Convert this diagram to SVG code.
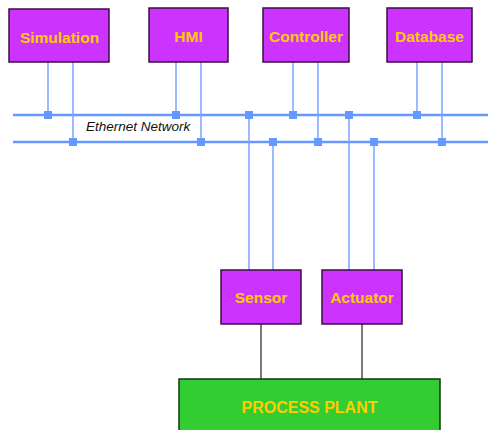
<svg xmlns="http://www.w3.org/2000/svg" width="488" height="430" viewBox="0 0 488 430">
  <style>
    .box { fill: #cc33ff; stroke: #3a1040; stroke-width: 1.5; }
    .plant { fill: #33cc33; stroke: #0d3d0d; stroke-width: 1.5; }
    .label { font-family: "Liberation Sans", Arial, sans-serif; font-weight: bold; font-size: 15.5px; fill: #ffcc00; text-anchor: middle; }
    .big { font-size: 16px; }
    .bus { stroke: #6699ff; stroke-width: 2.5; fill: none; }
    .drop { stroke: #7aa5ff; stroke-width: 1.5; fill: none; }
    .wire { stroke: #222; stroke-width: 1.2; fill: none; }
    .tap { fill: #6699ff; }
    .net { font-family: "Liberation Sans", Arial, sans-serif; font-style: italic; font-size: 13.5px; fill: #111; }
  </style>
  <defs>
    <rect id="tapSq" x="-4" y="-4" width="8" height="8" class="tap"/>
  </defs>
  <rect width="488" height="430" fill="#fff"/>

  <g id="connectors">
    <!-- Ethernet bus (two rails) -->
    <line class="bus" x1="13" y1="115" x2="488" y2="115"/>
    <line class="bus" x1="13" y1="142" x2="488" y2="142"/>
    <!-- drops from the top row of nodes -->
    <line class="drop" x1="48" y1="62" x2="48" y2="115"/>
    <line class="drop" x1="73" y1="62" x2="73" y2="142"/>
    <line class="drop" x1="176" y1="62" x2="176" y2="115"/>
    <line class="drop" x1="201" y1="62" x2="201" y2="142"/>
    <line class="drop" x1="293" y1="62" x2="293" y2="115"/>
    <line class="drop" x1="318" y1="62" x2="318" y2="142"/>
    <line class="drop" x1="417" y1="62" x2="417" y2="115"/>
    <line class="drop" x1="442" y1="62" x2="442" y2="142"/>
    <!-- drops down to field devices -->
    <line class="drop" x1="249" y1="115" x2="249" y2="270"/>
    <line class="drop" x1="273" y1="142" x2="273" y2="270"/>
    <line class="drop" x1="349" y1="115" x2="349" y2="270"/>
    <line class="drop" x1="374" y1="142" x2="374" y2="270"/>
    <!-- taps -->
    <use href="#tapSq" x="48" y="115"/>
    <use href="#tapSq" x="73" y="142"/>
    <use href="#tapSq" x="176" y="115"/>
    <use href="#tapSq" x="201" y="142"/>
    <use href="#tapSq" x="249" y="115"/>
    <use href="#tapSq" x="273" y="142"/>
    <use href="#tapSq" x="293" y="115"/>
    <use href="#tapSq" x="318" y="142"/>
    <use href="#tapSq" x="349" y="115"/>
    <use href="#tapSq" x="374" y="142"/>
    <use href="#tapSq" x="417" y="115"/>
    <use href="#tapSq" x="442" y="142"/>
    <!-- field wiring to plant -->
    <line class="wire" x1="261" y1="324" x2="261" y2="379"/>
    <line class="wire" x1="362" y1="324" x2="362" y2="379"/>
    <text class="net" x="86" y="131">Ethernet Network</text>
  </g>

  <g id="simulation">
    <rect class="box" x="9" y="9" width="100" height="53"/>
    <text class="label" x="59.5" y="43">Simulation</text>
  </g>
  <g id="hmi">
    <rect class="box" x="149" y="8" width="79" height="54"/>
    <text class="label" x="188.5" y="42">HMI</text>
  </g>
  <g id="controller">
    <rect class="box" x="263" y="8" width="86" height="54"/>
    <text class="label" x="306" y="42">Controller</text>
  </g>
  <g id="database">
    <rect class="box" x="387" y="8" width="85" height="54"/>
    <text class="label" x="429.5" y="42">Database</text>
  </g>
  <g id="sensor">
    <rect class="box" x="221" y="270" width="80" height="54"/>
    <text class="label" x="261" y="303">Sensor</text>
  </g>
  <g id="actuator">
    <rect class="box" x="322" y="270" width="80" height="54"/>
    <text class="label" x="362" y="303">Actuator</text>
  </g>
  <g id="process-plant">
    <rect class="plant" x="179" y="379" width="261" height="55"/>
    <text class="label big" x="309.5" y="413">PROCESS PLANT</text>
  </g>
</svg>
